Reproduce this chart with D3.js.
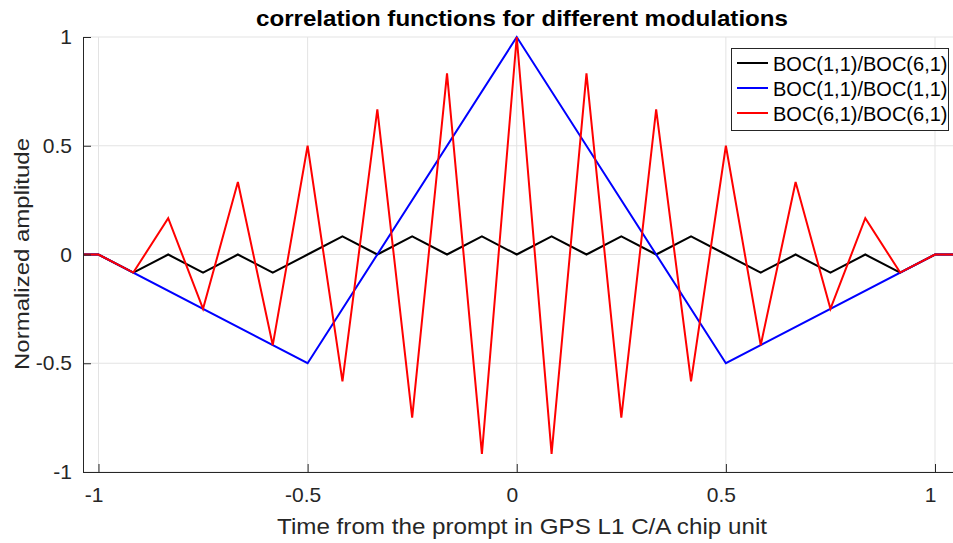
<!DOCTYPE html>
<html><head><meta charset="utf-8">
<script src="https://cdn.jsdelivr.net/npm/d3@7"></script>
<style>
body{margin:0;background:#fff}
svg{display:block;font-family:"Liberation Sans",Arial,Helvetica,sans-serif}
</style>
</head><body>
<svg id="chart" width="953" height="543"></svg>
<script>
// ---- data ----
const titleText = "correlation functions for different modulations";
const xLabelText = "Time from the prompt in GPS L1 C/A chip unit";
const yLabelText = "Normalized amplitude";

const xTicks = [-1, -0.5, 0, 0.5, 1];
const xTickLabels = ["-1", "-0.5", "0", "0.5", "1"];
const yTicks = [-1, -0.5, 0, 0.5, 1];
const yTickLabels = ["-1", "-0.5", "0", "0.5", "1"];

const seriesNames = ["BOC(1,1)/BOC(6,1)", "BOC(1,1)/BOC(1,1)", "BOC(6,1)/BOC(6,1)"];
const seriesColors = ["#000000", "#0000ff", "#ff0000"];

// lag values (chips) shared by the BOC(6,1) based curves
const lags = [-1.05, -1, -0.9167, -0.8333, -0.75, -0.6667, -0.5833, -0.5, -0.4167, -0.3333, -0.25, -0.1667, -0.0833,
  0, 0.0833, 0.1667, 0.25, 0.3333, 0.4167, 0.5, 0.5833, 0.6667, 0.75, 0.8333, 0.9167, 1, 1.05];
const boc11_boc61 = [0, 0, -0.083, 0, -0.083, 0, -0.083, 0, 0.083, 0, 0.083, 0, 0.083,
  0, 0.083, 0, 0.083, 0, 0.083, 0, -0.083, 0, -0.083, 0, -0.083, 0, 0];
const boc61_boc61 = [0, 0, -0.083, 0.167, -0.25, 0.333, -0.417, 0.5, -0.583, 0.667, -0.75, 0.833, -0.917,
  1, -0.917, 0.833, -0.75, 0.667, -0.583, 0.5, -0.417, 0.333, -0.25, 0.167, -0.083, 0, 0];
// BOC(1,1) autocorrelation vertices
const lagsBoc11 = [-1.05, -1, -0.5, 0, 0.5, 1, 1.05];
const boc11_boc11 = [0, 0, -0.5, 1, -0.5, 0, 0];

// ---- layout ----
const svg = d3.select("#chart");
const pL = 83, pR = 953, pT = 37, pB = 472;
const x = d3.scaleLinear().domain([-1.037, 1.043]).range([pL, pR]);
const y = d3.scaleLinear().domain([-1, 1]).range([pB, pT]);
const axisColor = "#262626", gridColor = "#e3e3e3";

svg.append("defs").append("clipPath").attr("id", "clip")
  .append("rect").attr("x", pL).attr("y", pT - 2).attr("width", pR - pL).attr("height", pB - pT + 4);

// grid
const grid = svg.append("g");
grid.selectAll("line.gx").data(xTicks).join("line").attr("class", "gx")
  .attr("x1", d => x(d)).attr("x2", d => x(d)).attr("y1", pT).attr("y2", pB)
  .attr("stroke", gridColor).attr("stroke-width", 1);
grid.selectAll("line.gy").data(yTicks).join("line").attr("class", "gy")
  .attr("y1", d => y(d)).attr("y2", d => y(d)).attr("x1", pL).attr("x2", pR)
  .attr("stroke", gridColor).attr("stroke-width", 1);

// lines
const plot = svg.append("g").attr("clip-path", "url(#clip)");
const line = d3.line().x(d => x(d[0])).y(d => y(d[1]));
const series = [
  d3.zip(lags, boc11_boc61),
  d3.zip(lagsBoc11, boc11_boc11),
  d3.zip(lags, boc61_boc61)
];
series.forEach((s, i) => {
  plot.append("path").datum(s).attr("d", line)
    .attr("fill", "none").attr("stroke", seriesColors[i])
    .attr("stroke-width", 2).attr("stroke-linejoin", "miter");
});

// axes
const xAxis = d3.axisBottom(x).tickValues(xTicks).tickFormat((d, i) => xTickLabels[i])
  .tickSizeInner(-8).tickSizeOuter(0).tickPadding(15.5);
const gx = svg.append("g").attr("transform", `translate(0,${pB})`).call(xAxis);
gx.select(".domain").attr("d", `M${pL},0.5H${pR}`);
gx.selectAll(".tick text").attr("dx", -5);
const yAxis = d3.axisLeft(y).tickValues(yTicks).tickFormat((d, i) => yTickLabels[i])
  .tickSizeInner(-8).tickSizeOuter(0).tickPadding(11);
const gy = svg.append("g").attr("transform", `translate(${pL},0)`).call(yAxis);
[gx, gy].forEach(g => {
  g.select(".domain").attr("stroke", axisColor);
  g.selectAll(".tick line").attr("stroke", axisColor);
  g.selectAll(".tick text").attr("fill", axisColor).style("font-size", "21px")
    .style("font-family", '"Liberation Sans",Arial,sans-serif');
});

// title & labels
svg.append("text").attr("x", 522).attr("y", 26).attr("text-anchor", "middle")
  .attr("font-weight", "bold").attr("font-size", 21.5).attr("fill", "#000")
  .attr("textLength", 532).attr("lengthAdjust", "spacingAndGlyphs").text(titleText);
svg.append("text").attr("x", 522).attr("y", 534).attr("text-anchor", "middle")
  .attr("font-size", 22).attr("fill", axisColor)
  .attr("textLength", 490).attr("lengthAdjust", "spacingAndGlyphs").text(xLabelText);
svg.append("text").attr("transform", "translate(28.5,254) rotate(-90)").attr("text-anchor", "middle")
  .attr("font-size", 21).attr("fill", axisColor)
  .attr("textLength", 232).attr("lengthAdjust", "spacingAndGlyphs").text(yLabelText);

// legend
const lg = svg.append("g");
lg.append("rect").attr("x", 731.5).attr("y", 48.5).attr("width", 217).attr("height", 82)
  .attr("fill", "#fff").attr("stroke", axisColor).attr("stroke-width", 1);
seriesNames.forEach((name, i) => {
  const by = 71 + i * 25;
  lg.append("line").attr("x1", 737).attr("x2", 768).attr("y1", by - 8).attr("y2", by - 8)
    .attr("stroke", seriesColors[i]).attr("stroke-width", 2);
  lg.append("text").attr("x", 773).attr("y", by).attr("font-size", 20).attr("fill", "#000").text(name);
});
</script>
</body></html>
